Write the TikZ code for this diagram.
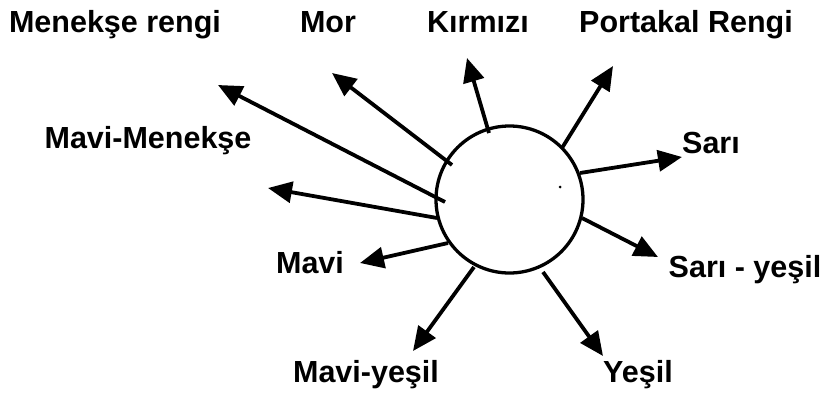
\documentclass[tikz,border=0pt]{standalone}
\usepackage{fontspec}
\setmainfont{Liberation Sans}
\usetikzlibrary{arrows.meta}
\begin{document}
\begin{tikzpicture}[x=1pt,y=-1pt,
  arr/.style={line width=3.8pt,-{Triangle[length=24pt,width=21pt]}},
  lbl/.style={font=\fontsize{30.5}{32}\selectfont\bfseries,anchor=base,inner sep=0pt}]
\useasboundingbox (0,0) rectangle (824,405);
\node[circle,draw,line width=3.3pt,minimum size=147pt,inner sep=0pt] (c) at (509.5,199.5) {};
\fill (560,187) circle (1.5pt);
% start points
\coordinate (s1) at (445,202);
\coordinate (s2) at (452,165);
\coordinate (s3) at (489,133);
\coordinate (s4) at (562,148);
\coordinate (s5) at (580,173);
\coordinate (s6) at (582,218);
\coordinate (s7) at (543,272);
\coordinate (s8) at (474,267);
\coordinate (s9) at (448,243);
\coordinate (s10) at (437,218);
% tips
\coordinate (t1) at (218,85);
\coordinate (t2) at (332,73);
\coordinate (t3) at (467,58);
\coordinate (t4) at (613,66);
\coordinate (t5) at (682,157);
\coordinate (t6) at (658,257);
\coordinate (t7) at (603,356);
\coordinate (t8) at (413,351);
\coordinate (t9) at (360,263);
\coordinate (t10) at (268,188);
\foreach \i in {1,...,10} {\draw[arr] (s\i) -- (t\i);}
% labels
\node[lbl] (l1) at (115,32) {Menekşe rengi};
\node[lbl] (l2) at (328,32) {Mor};
\node[lbl] (l3) at (478,32) {Kırmızı};
\node[lbl] (l4) at (686,32) {Portakal Rengi};
\node[lbl] (l5) at (148,148) {Mavi-Menekşe};
\node[lbl] (l6) at (711,153) {Sarı};
\node[lbl] (l7) at (745,277) {Sarı - yeşil};
\node[lbl] (l8) at (310,273) {Mavi};
\node[lbl] (l9) at (366,382) {Mavi-yeşil};
\node[lbl] (l10) at (638,382) {Yeşil};
\end{tikzpicture}
\end{document}
